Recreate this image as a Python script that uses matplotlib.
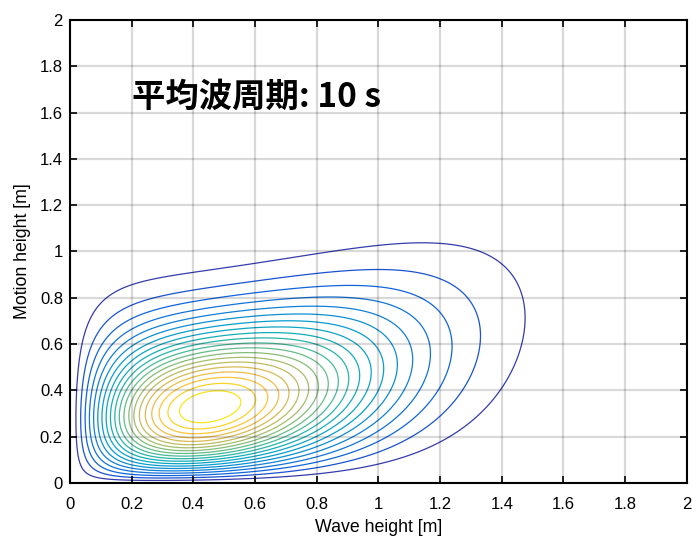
import matplotlib.pyplot as plt
import numpy as np
from matplotlib.colors import LinearSegmentedColormap

# axis ranges / ticks
x_lim = [0, 2]
y_lim = [0, 2]
ticks = [0, 0.2, 0.4, 0.6, 0.8, 1, 1.2, 1.4, 1.6, 1.8, 2]
tick_labels = ['0', '0.2', '0.4', '0.6', '0.8', '1', '1.2', '1.4', '1.6', '1.8', '2']
n_levels = 20
title_text = '平均波周期: 10 s'

# joint density parameters (read from the contour shape)
# wave height ridge: x^p * exp(-(x/lam)^k)
p_x, k_x, lam_x = 1.2, 1.66, 0.547
# mode of motion height given wave height: a + b*x + c*x^2
mode_coef = [0.277, 0.03, 0.18]
# Weibull shape of motion height given wave height: s0 + s1*x
shape_coef = [1.85, 0.6]

# parula colormap (subsampled)
parula_pts = [
    (0.2081, 0.1663, 0.5292), (0.2081, 0.2386, 0.6771), (0.0591, 0.3598, 0.8683),
    (0.0723, 0.4887, 0.8467), (0.0265, 0.6137, 0.8135), (0.0843, 0.6928, 0.7062),
    (0.3482, 0.7424, 0.5473), (0.6473, 0.7456, 0.4188), (0.8824, 0.7274, 0.3217),
    (0.9990, 0.7653, 0.2164), (0.9789, 0.8271, 0.1633), (0.9763, 0.9831, 0.0538)]
parula_pos = [0, 0.048, 0.111, 0.222, 0.333, 0.444, 0.556, 0.667, 0.778, 0.857,
              0.905, 1.0]
parula = LinearSegmentedColormap.from_list('parula', list(zip(parula_pos, parula_pts)))

x = np.linspace(0.0005, 2, 500)
y = np.linspace(0.0005, 2, 500)
X, Y = np.meshgrid(x, y)

ridge = X ** p_x * np.exp(-(X / lam_x) ** k_x)
ymode = mode_coef[0] + mode_coef[1] * X + mode_coef[2] * X ** 2
m = shape_coef[0] + shape_coef[1] * X
u = Y / ymode
Z = ridge * np.exp((m - 1) * np.log(u) - (m - 1) / m * (u ** m - 1))
Z = Z / Z.max()

levels = np.linspace(0, 1, n_levels + 2)[1:-1]

fig = plt.figure(figsize=(6.92, 5.37), dpi=100)
ax = fig.add_axes([0.101, 0.1006, 0.8916, 0.8622])

ax.contour(X, Y, Z, levels=levels, cmap=parula, vmin=0, vmax=1,
           linewidths=0.9, zorder=1)

ax.set_xlim(x_lim)
ax.set_ylim(y_lim)
ax.set_xticks(ticks)
ax.set_xticklabels(tick_labels)
ax.set_yticks(ticks)
ax.set_yticklabels(tick_labels)
ax.grid(True, color='k', alpha=0.15, linewidth=1.6, zorder=2)
ax.set_axisbelow(False)
ax.tick_params(direction='in', length=5, width=1.2, top=True, right=True,
               labelsize=12)
ax.tick_params(axis='x', pad=10)
ax.tick_params(axis='y', pad=5)
for s in ax.spines.values():
    s.set_linewidth(1.5)

for lab in ax.get_xticklabels() + ax.get_yticklabels():
    lab.set_fontfamily('Liberation Sans')

ax.set_xlabel('Wave height [m]', fontsize=12.8, family='Liberation Sans', labelpad=5)
ax.set_ylabel('Motion height [m]', fontsize=12.8, family='Liberation Sans', labelpad=6)

ax.text(0.2, 1.665, title_text, fontsize=24, fontweight='bold',
        family=['Noto Sans CJK JP', 'DejaVu Sans'], va='center', ha='left')

fig.savefig('out.png', dpi=100)
